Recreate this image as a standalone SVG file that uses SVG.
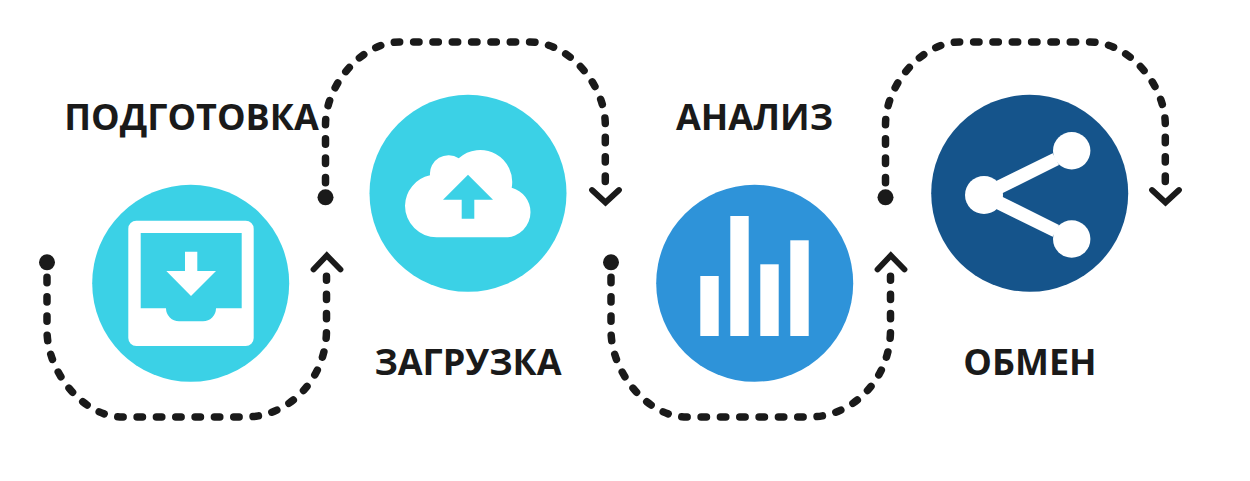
<svg xmlns="http://www.w3.org/2000/svg" width="1250" height="481" viewBox="0 0 1250 481">
<style>
.flow{fill:none;stroke:#1a1a1a;stroke-width:7.500;stroke-linecap:round;stroke-dasharray:5.400 13.930}
.chev{fill:none;stroke:#1a1a1a;stroke-width:5.800;stroke-linecap:round;stroke-linejoin:miter}
.dot{fill:#1a1a1a}
.label{font-family:"Open Sans","Liberation Sans",sans-serif;font-weight:700;font-size:36px;fill:#1a1a1a;text-anchor:middle}
.ic{fill:#fff}
</style>
<defs>
<path id="down" d="M47 277.300V330C47 373.500 84.500 417 122 417H245C290 417 326.500 378 326.500 330V276.300"/>
<path id="up" d="M325.500 182.800V125C325.500 83.500 363 42 400 42H530C567.600 42 605.300 83.500 605.300 125V185"/>
</defs>
<rect width="1250" height="481" fill="#fff"/>
<g id="connectors">
<use href="#down" class="flow"/>
<use href="#up" class="flow"/>
<use href="#down" class="flow" x="564"/>
<use href="#up" class="flow" x="560"/>
<circle class="dot" cx="47" cy="262.300" r="8"/>
<circle class="dot" cx="325.500" cy="197.300" r="8"/>
<circle class="dot" cx="611" cy="262.300" r="8"/>
<circle class="dot" cx="885.500" cy="197.300" r="8"/>
<path class="chev" d="M313.500 269.500L326.800 255.500L340.500 269.500"/>
<path class="chev" d="M592 190L605.500 202.500L619 190"/>
<path class="chev" d="M877.500 269.500L890.800 255.500L904.500 269.500"/>
<path class="chev" d="M1152 190L1165.500 202.500L1179 190"/>
</g>
<g id="node-podgotovka">
<circle cx="190.700" cy="283.300" r="98.500" fill="#3bd1e6"/>
<path class="ic" fill-rule="evenodd" d="M136.300 220.700H245.700a8 8 0 0 1 8 8V338a8 8 0 0 1-8 8H136.300a8 8 0 0 1-8-8V228.700a8 8 0 0 1 8-8ZM140.700 233V308.300H166a13 13 0 0 0 13 13H203a13 13 0 0 0 13-13H241.700V233Z"/>
<path class="ic" d="M185 251.700H197.300V271H216L191 296L166.300 271H185Z"/>
<text class="label" x="191.500" y="130">ПОДГОТОВКА</text>
</g>
<g id="node-zagruzka">
<circle cx="468" cy="193.300" r="98.500" fill="#3bd1e6"/>
<path class="ic" d="M430 175.300A18.500 18.500 0 0 1 458.700 158.300A32 32 0 0 1 511.700 187.700A25.500 25.500 0 0 1 530.500 212.300A25 25 0 0 1 505.500 237.300H436.700A31.600 31.600 0 0 1 405 205.700A31.600 31.600 0 0 1 430 175.300Z"/>
<path fill="#3bd1e6" d="M468 174.700L493 199.700H474.300V218.700H461.700V199.700H443Z"/>
<text class="label" x="468" y="374.500">ЗАГРУЗКА</text>
</g>
<g id="node-analiz">
<circle cx="754.700" cy="283.300" r="98.500" fill="#2e93d9"/>
<rect class="ic" x="700.300" y="276" width="18.400" height="60"/>
<rect class="ic" x="730.300" y="216" width="18.400" height="120"/>
<rect class="ic" x="760.300" y="264.300" width="18.400" height="71.700"/>
<rect class="ic" x="790.300" y="240.300" width="18.400" height="95.700"/>
<text class="label" x="754.500" y="130">АНАЛИЗ</text>
</g>
<g id="node-obmen">
<circle cx="1029.700" cy="193.300" r="98.500" fill="#15548b"/>
<circle class="ic" cx="1071.700" cy="150.700" r="18.700"/>
<circle class="ic" cx="1071.700" cy="239" r="18.700"/>
<circle class="ic" cx="984" cy="195" r="19"/>
<path class="ic" d="M996.700 180.700L1052.700 153.300L1059 165L1002.300 193.300V196.700L1059 225L1052.700 236.700L996.700 209.300Z"/>
<text class="label" x="1030" y="374.500">ОБМЕН</text>
</g>
</svg>
